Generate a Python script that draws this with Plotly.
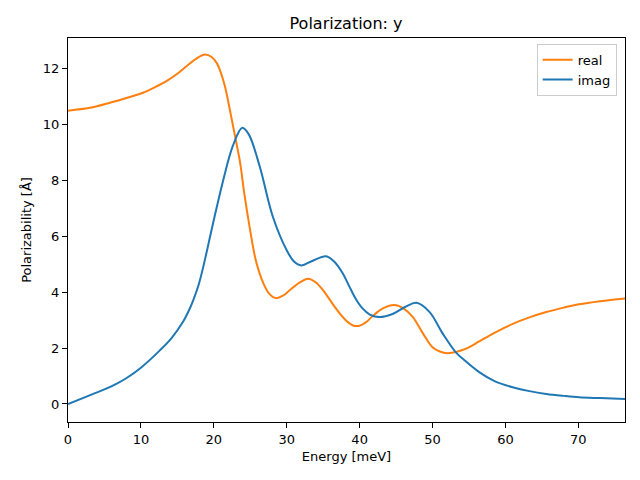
import plotly.graph_objects as go

real_x = [0, 3, 5.75, 8, 10.3, 12, 13.5, 15, 16.3, 17.7, 18.8, 19.7, 20.4, 20.8, 21.5, 22.2, 22.9, 23.6, 24.2,
          24.9, 25.8, 26.8, 27.6, 28.5, 29.5, 30.4, 31.8, 32.9, 34, 35, 36.2, 37.3, 38.2, 39.1, 40, 41, 41.8,
          43.2, 44.8, 46, 47.3, 48.7, 50, 51, 52.1, 53.2, 54.6, 56.4, 57.8, 59.5, 61, 63.3, 65.6, 68,
          70.1, 73, 76.5]
real_y = [10.5, 10.6, 10.78, 10.95, 11.14, 11.35, 11.56, 11.82, 12.1, 12.38, 12.51, 12.42, 12.2, 11.98, 11.4,
          10.53, 9.6, 8.65, 7.5, 6.35, 5.1, 4.32, 3.95, 3.79, 3.88, 4.07, 4.35, 4.48, 4.35, 4.07, 3.62, 3.23,
          2.97, 2.81, 2.8, 2.95, 3.15, 3.42, 3.54, 3.42, 3.11, 2.52, 2.03, 1.88, 1.82, 1.86, 1.98, 2.24, 2.45,
          2.68, 2.87, 3.1, 3.29, 3.45, 3.57, 3.68, 3.78]

imag_x = [0, 3.47, 5, 6.5, 8.04, 10, 12.6, 14.2, 15.8, 16.5, 17.2, 17.9, 18.5, 19.9, 21.3, 22.6, 23.9, 24.8,
          26.3, 28.1, 30, 31, 32, 33.5, 35.4, 36.5, 37.7, 38.6, 39.5, 40.4, 41.4, 42.7, 44.6, 46.3, 47.8,
          49.6, 51.4, 53.2, 54.4, 56.4, 58.5, 61, 63.3, 65.6, 68, 70.1, 73, 76.5]
imag_y = [0, 0.36, 0.52, 0.7, 0.93, 1.3, 1.92, 2.36, 2.95, 3.3, 3.73, 4.25, 4.85, 6.47, 8.02, 9.23, 9.89, 9.65,
          8.5, 6.7, 5.5, 5.1, 4.96, 5.12, 5.29, 5.1, 4.67, 4.2, 3.75, 3.42, 3.2, 3.11, 3.23, 3.48, 3.62,
          3.29, 2.52, 1.85, 1.56, 1.14, 0.82, 0.6, 0.46, 0.36, 0.29, 0.24, 0.21, 0.18]

x_ticks = [0, 10, 20, 30, 40, 50, 60, 70]
y_ticks = [0, 2, 4, 6, 8, 10, 12]

fig = go.Figure()
fig.add_trace(go.Scatter(x=real_x, y=real_y, mode="lines", name="real",
                         line=dict(color="#ff7f0e", width=2, shape="spline", smoothing=1.0)))
fig.add_trace(go.Scatter(x=imag_x, y=imag_y, mode="lines", name="imag",
                         line=dict(color="#1f77b4", width=2, shape="spline", smoothing=1.0)))

axis_common = dict(showline=True, linecolor="black", linewidth=1, mirror=True, ticks="outside",
                   ticklen=5, tickwidth=1, tickcolor="black", showgrid=False, zeroline=False,
                   automargin=False,
                   tickfont=dict(family="DejaVu Sans", size=13, color="black"))

W, H = 632, 472
fig.update_layout(
    width=W, height=H,
    margin=dict(l=60, r=15, t=30, b=58),
    paper_bgcolor="white", plot_bgcolor="white",
    title=dict(text="Polarization: y", x=338 / W, xanchor="center", y=1 - 15 / H,
               yanchor="middle", automargin=False,
               font=dict(family="DejaVu Sans", size=16, color="black")),
    xaxis=dict(range=[0, 76.4], tickvals=x_ticks,
               title=dict(text="Energy [meV]", font=dict(family="DejaVu Sans", size=13, color="black"),
                          standoff=6),
               **axis_common),
    yaxis=dict(range=[-0.645, 13.1], tickvals=y_ticks,
               title=dict(text="Polarizability [Å]", font=dict(family="DejaVu Sans", size=13, color="black"),
                          standoff=8),
               **axis_common),
    legend=dict(x=0.985, y=0.985, xanchor="right", yanchor="top", bgcolor="rgba(255,255,255,0.8)",
                bordercolor="#cccccc", borderwidth=1,
                font=dict(family="DejaVu Sans", size=13, color="black")),
    showlegend=True,
)

fig.write_html("out.html")
